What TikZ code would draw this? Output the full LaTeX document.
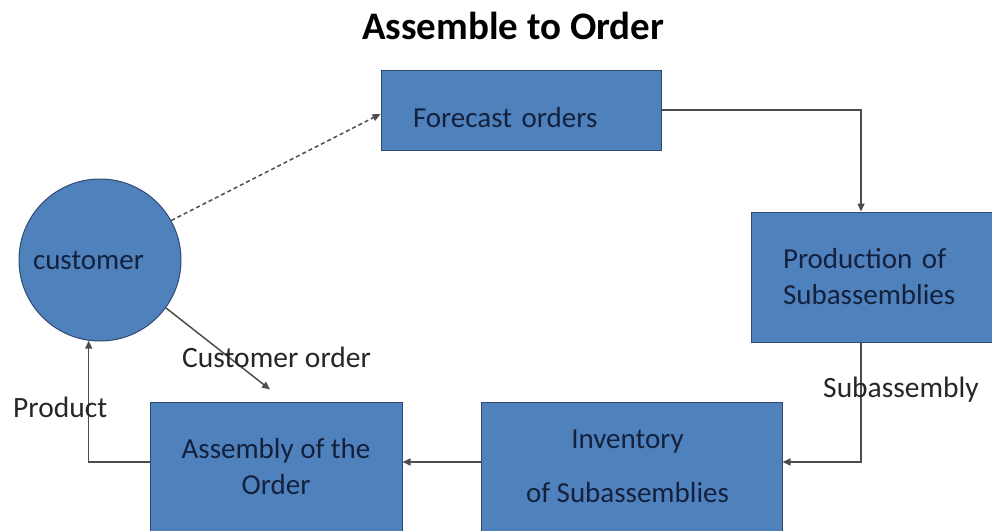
\documentclass[tikz,border=0pt]{standalone}
\usepackage{fontspec}
\setmainfont{Carlito}
\usetikzlibrary{arrows.meta}

\definecolor{boxfill}{HTML}{4F81BD}
\definecolor{boxline}{HTML}{2F4A6E}
\definecolor{boxtext}{HTML}{14213D}
\definecolor{flowline}{HTML}{4D4D4D}
\definecolor{labeltext}{HTML}{262626}

\tikzset{
  box/.style={draw=boxline, fill=boxfill, line width=1pt, text=boxtext,
    font=\fontsize{29}{36}\selectfont, inner sep=0pt},
  boxlabel/.style={text=boxtext, font=\fontsize{29}{36}\selectfont, inner sep=0pt},
  flow/.style={draw=flowline, line width=1.5pt,
    -{Triangle[length=8pt,width=7pt]}},
  lbl/.style={text=labeltext, font=\fontsize{29.5}{34}\selectfont, inner sep=0pt}
}

\begin{document}
\begin{tikzpicture}[x=1pt, y=-1pt]
  \clip (0,0) rectangle (992,530);
  \fill[white] (0,0) rectangle (992,530);

  % title
  \node[lbl, anchor=base west, text=black, font=\fontsize{39}{46}\selectfont\bfseries]
    (title) at (362,39) {Assemble to Order};

  % process boxes
  \node[box, minimum width=280, minimum height=80, text width=216, align=left,
        text height=34pt, text depth=0pt]
    (fc) at (521,110) {Forecast orders};
  \node[box, minimum width=249, minimum height=130, text width=185, align=left]
    (prod) at (875.5,277) {Production of\\Subassemblies};
  \node[box, minimum width=301, minimum height=138] (inv) at (631.5,471) {};
  \node[boxlabel, align=center] (invtext) at ([xshift=-4pt,yshift=5pt]inv.center)
    {Inventory\\[18pt]of Subassemblies};
  \node[box, minimum width=252, minimum height=138] (asm) at (276,471) {};
  \node[boxlabel, align=center] (asmtext) at ([yshift=4pt]asm.center)
    {Assembly of the\\Order};

  % customer
  \node[box, circle, minimum size=162, text width=134, align=left] (cust) at (100,260) {customer};

  % connectors
  \draw[flow, dashed, dash pattern=on 4pt off 3pt] (cust.29) -- ([yshift=-4pt]fc.west);
  \draw[flow] (fc.east) -| ([xshift=-14.5pt]prod.north);
  \draw[flow] ([xshift=-14.5pt]prod.south) |- ([yshift=9pt]inv.east);
  \draw[flow] ([yshift=9pt]inv.west) -- ([yshift=9pt]asm.east);
  \draw[flow] ([yshift=9pt]asm.west) -| (cust.262);
  \coordinate (ordtip) at ([xshift=-6pt,yshift=12pt]asm.north);
  \draw[flow] (cust.324) -- (ordtip);

  % connector labels
  \node[lbl, anchor=base west] (lorder) at (182,367) {Customer order};
  \node[lbl, anchor=base west] (lprod) at (13,417) {Product};
  \node[lbl, anchor=base west] (lsub) at (823,397) {Subassembly};
\end{tikzpicture}
\end{document}
